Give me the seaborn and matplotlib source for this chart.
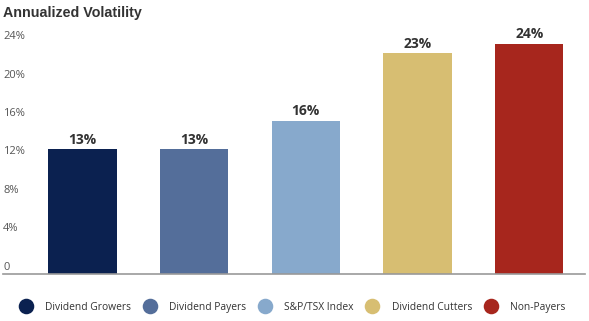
import matplotlib
matplotlib.use("Agg")
import matplotlib.pyplot as plt
import matplotlib.transforms as mtransforms
from matplotlib.lines import Line2D
import seaborn as sns
import pandas as pd

categories = ["Dividend Growers", "Dividend Payers", "S&P/TSX Index",
              "Dividend Cutters", "Non-Payers"]
volatility = [13, 13, 16, 23, 24]
colors = ["#0B2150", "#546E9A", "#87A9CC", "#D7BE72", "#A7261D"]
y_ticks = [0, 4, 8, 12, 16, 20, 24]
y_tick_labels = ["0", "4%", "8%", "12%", "16%", "20%", "24%"]
title = "Annualized Volatility"

sns.set_style("white")
plt.rcParams["font.family"] = ["Open Sans", "DejaVu Sans"]

W, H = 589, 321
fig = plt.figure(figsize=(W / 100, H / 100), dpi=100)

# plot area in pixel coordinates
left_px, right_px = 3, 585
bottom_px, top_px = 274.3, 36
ax = fig.add_axes([left_px / W, 1 - bottom_px / H,
                   (right_px - left_px) / W, (bottom_px - top_px) / H])

df = pd.DataFrame({"category": categories, "value": volatility})
sns.barplot(data=df, x="category", y="value", hue="category",
            palette=colors, width=0.613, legend=False, ax=ax,
            saturation=1, linewidth=0)

ax.set_xlim(-0.712, 4.5)
ax.set_ylim(0, 24.8)
ax.set_xlabel("")
ax.set_ylabel("")
ax.set_xticks([])
ax.set_yticks([])
for side in ["top", "right", "left"]:
    ax.spines[side].set_visible(False)
ax.spines["bottom"].set_color("#999999")
ax.spines["bottom"].set_linewidth(1.2)

# y-axis labels sit just above their tick values, aligned to the left edge
lab_trans = mtransforms.blended_transform_factory(ax.transAxes, ax.transData) + \
    mtransforms.ScaledTranslation(0, 7 / 100, fig.dpi_scale_trans)
for v, lab in zip(y_ticks, y_tick_labels):
    ax.text(0, v, lab, transform=lab_trans, ha="left", va="center",
            fontsize=8, color="#555555")

# value labels above each bar
for i, v in enumerate(volatility):
    ax.annotate(f"{v:.0f}%", (i, v), xytext=(0, 2), textcoords="offset points",
                ha="center", va="bottom", fontsize=10, fontweight="bold",
                color="#333333")

fig.text(3 / W, 1 - 13 / H, title, ha="left", va="center",
         fontsize=10.3, fontweight="bold", color="#333333",
         family=["Liberation Sans", "DejaVu Sans"])

# legend row: circle swatch followed by its label, laid out left to right
renderer = fig.canvas.get_renderer()
x = 18.0
legend_y = 1 - 306 / H
for name, c in zip(categories, colors):
    fig.add_artist(Line2D([(x + 7.5) / W], [legend_y], transform=fig.transFigure,
                          marker="o", linestyle="", markersize=11.2,
                          markerfacecolor=c, markeredgewidth=0))
    t = fig.text((x + 27) / W, legend_y, name, ha="left", va="center_baseline",
                 fontsize=7.4, color="#333333")
    width = t.get_window_extent(renderer=renderer).width
    x = x + 27 + width + 11

fig.savefig("out.png", dpi=100, facecolor="white")
